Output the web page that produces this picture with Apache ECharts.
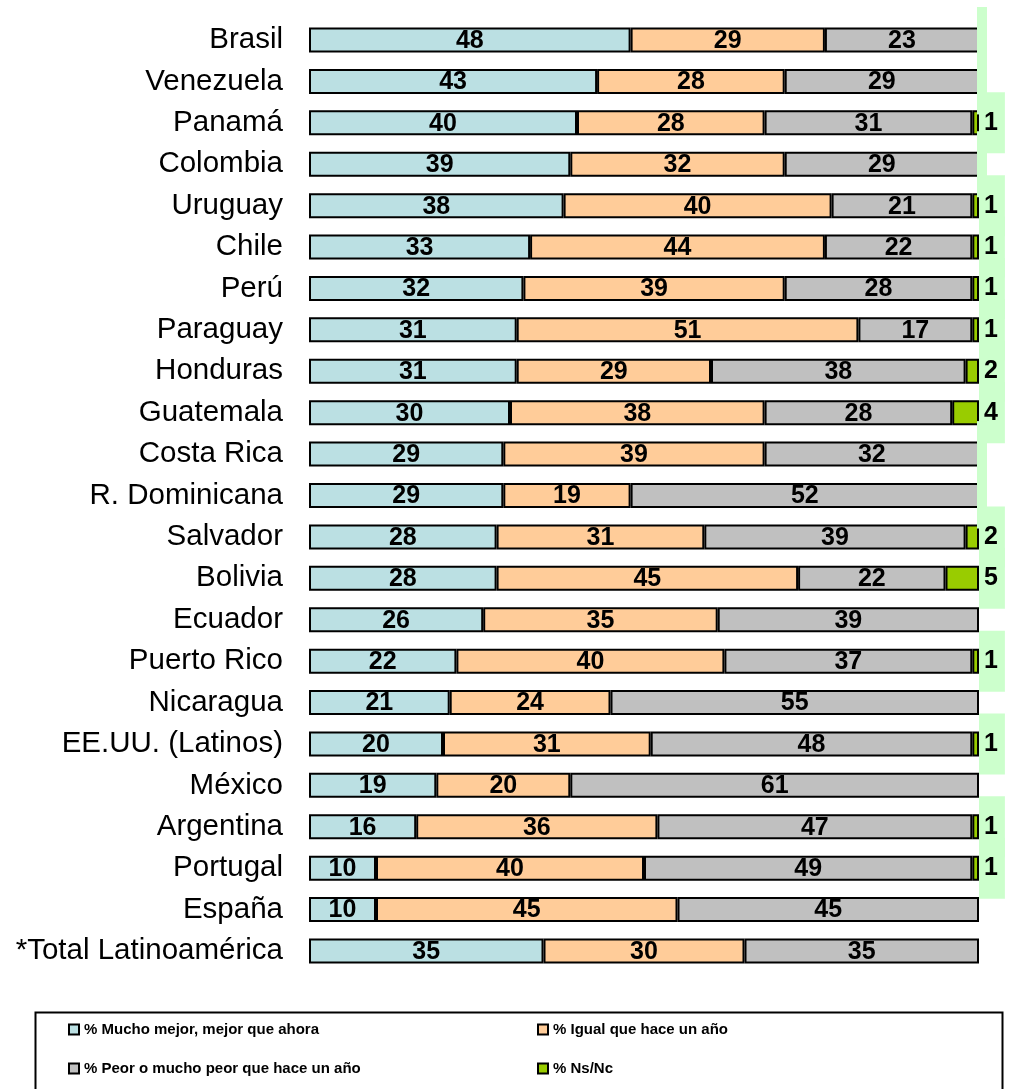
<!DOCTYPE html>
<html>
<head>
<meta charset="utf-8">
<script src="https://cdn.jsdelivr.net/npm/echarts@6/dist/echarts.min.js"></script>
<style>
html,body{margin:0;padding:0;background:#fff;}
#chart{width:1020px;height:1089px;}
</style>
</head>
<body>
<div id="chart"></div>
<script>
const categories = ['Brasil','Venezuela','Panamá','Colombia','Uruguay','Chile','Perú','Paraguay','Honduras','Guatemala','Costa Rica','R. Dominicana','Salvador','Bolivia','Ecuador','Puerto Rico','Nicaragua','EE.UU. (Latinos)','México','Argentina','Portugal','España','*Total Latinoamérica'];
const mejor = [48,43,40,39,38,33,32,31,31,30,29,29,28,28,26,22,21,20,19,16,10,10,35];
const igual = [29,28,28,32,40,44,39,51,29,38,39,19,31,45,35,40,24,31,20,36,40,45,30];
const peor  = [23,29,31,29,21,22,28,17,38,28,32,52,39,22,39,37,55,48,61,47,49,45,35];
const nsnc  = [0,0,1,0,1,1,1,1,2,4,0,0,2,5,null,1,null,1,null,1,1,null,null];
const seriesNames = ['% Mucho mejor, mejor que ahora','% Igual que hace un año','% Peor o mucho peor que hace un año','% Ns/Nc'];

const FONT = 'Liberation Sans, Arial, sans-serif';
const colors = ['#BBE0E3','#FFCC99','#C0C0C0','#99CC00'];

const innerLabel = {
  show: true, position: 'inside', color: '#000',
  fontFamily: FONT, fontWeight: 'bold', fontSize: 25, offset: [0, 1]
};
function mainSeries(i, data) {
  return {
    name: seriesNames[i], type: 'bar', stack: 'total', barWidth: 25,
    data: data,
    itemStyle: { color: colors[i], borderColor: '#000', borderWidth: 2 },
    label: innerLabel
  };
}
const greenData = nsnc.map(v => {
  if (v === 0) {
    return { value: 0, itemStyle: { borderWidth: 0 },
      label: { formatter: ' ', width: 10, height: 66, padding: 0, distance: -2, lineHeight: 66 } };
  }
  return v;
});

const chart = echarts.init(document.getElementById('chart'));
const legendText = { color: '#000', fontFamily: FONT, fontWeight: 'bold', fontSize: 15 };
function legendAt(i, left, top) {
  return {
    data: [{ name: seriesNames[i], icon: 'rect' }], left: left, top: top, padding: 0,
    itemWidth: 10, itemHeight: 10, itemGap: 8, selectedMode: false,
    textStyle: legendText,
    itemStyle: { borderColor: '#000', borderWidth: 2 }
  };
}
chart.setOption({
  animation: false,
  backgroundColor: '#fff',
  grid: { left: 309, right: 41, top: 19.3, bottom: 117.3, containLabel: false },
  xAxis: { type: 'value', min: 0, max: 100, show: false },
  yAxis: {
    type: 'category', data: categories, inverse: true,
    axisLine: { show: false }, axisTick: { show: false },
    axisLabel: { color: '#000', fontFamily: FONT, fontSize: 29.5, margin: 26 }
  },
  legend: [
    legendAt(0, 68, 1022),
    legendAt(1, 537, 1022),
    legendAt(2, 68, 1061),
    legendAt(3, 537, 1061)
  ],
  graphic: [{
    type: 'rect', left: 33, top: 1010,
    shape: { width: 967, height: 100 },
    style: { fill: 'none', stroke: '#000', lineWidth: 2 }, silent: true
  }],
  series: [
    mainSeries(0, mejor),
    mainSeries(1, igual),
    mainSeries(2, peor),
    {
      name: seriesNames[3], type: 'bar', stack: 'total', barWidth: 25,
      data: greenData,
      itemStyle: { color: colors[3], borderColor: '#000', borderWidth: 2 },
      label: {
        show: true, position: 'right', distance: 0,
        color: '#000', fontFamily: FONT, fontWeight: 'bold', fontSize: 25,
        backgroundColor: '#CCFFCC', padding: [18, 7, 18, 5]
      }
    }
  ]
});
</script>
</body>
</html>
